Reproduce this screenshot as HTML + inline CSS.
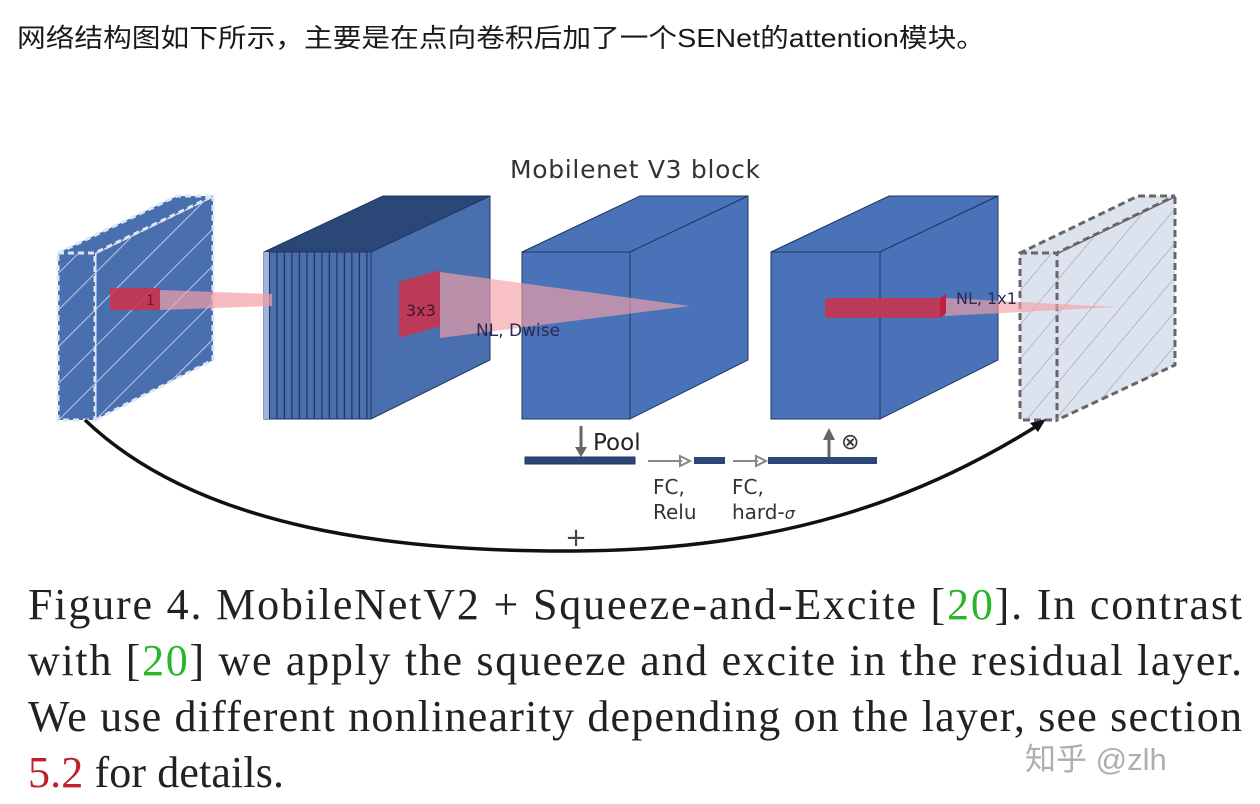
<!DOCTYPE html>
<html><head><meta charset="utf-8"><style>
html,body{margin:0;padding:0;background:#fff;width:1260px;height:804px;overflow:hidden}
</style></head><body>
<svg width="1260" height="804" viewBox="0 0 1260 804" xmlns="http://www.w3.org/2000/svg">
<defs>
<pattern id="hatch" width="26" height="26" patternUnits="userSpaceOnUse" patternTransform="rotate(45)"><line x1="0" y1="0" x2="0" y2="26" stroke="#b8c8e8" stroke-width="2"/></pattern>
<pattern id="hatch2" width="22" height="22" patternUnits="userSpaceOnUse" patternTransform="rotate(40)"><line x1="0" y1="0" x2="0" y2="22" stroke="#8a94a6" stroke-width="1"/></pattern>
<pattern id="stripes" width="7.5" height="10" patternUnits="userSpaceOnUse"><rect width="7.5" height="10" fill="#4a6fae"/><line x1="7" y1="0" x2="7" y2="10" stroke="#1f3560" stroke-width="1.5"/></pattern>
</defs>
<text x="17" y="47" textLength="968" lengthAdjust="spacingAndGlyphs" font-family="Liberation Sans,'Noto Sans CJK SC',sans-serif" font-size="26" fill="#1a1a1a">网络结构图如下所示，主要是在点向卷积后加了一个SENet的attention模块。</text>
<text x="635" y="178" text-anchor="middle" textLength="250" font-family="DejaVu Sans,sans-serif" font-size="25" fill="#333">Mobilenet V3 block</text>

<g>
<polygon points="95,253 213,196 213,360 95,420" fill="#4a6fae" stroke="#dde6f5" stroke-width="3" stroke-dasharray="6,4"/>
<polygon points="95,253 213,196 213,360 95,420" fill="url(#hatch)"/>
<polygon points="58,253 95,253 213,196 177,196" fill="#4a6fae" stroke="#dde6f5" stroke-width="3" stroke-dasharray="6,4"/>
<rect x="58" y="253" width="37" height="167" fill="#4a6fae" stroke="#dde6f5" stroke-width="3" stroke-dasharray="6,4"/>
<rect x="58" y="253" width="37" height="167" fill="url(#hatch)"/>
</g>
<g>
<polygon points="264,252 383,196 490,196 371,252" fill="#2b4777" stroke="#1f3560"/>
<polygon points="371,252 490,196 490,360 371,419" fill="#4a6fae" stroke="#1f3560"/>
<rect x="264" y="252" width="107" height="167" fill="url(#stripes)" stroke="#1f3560"/>
<rect x="264" y="252" width="5" height="167" fill="#9fb4d8"/>
</g>
<g>
<polygon points="522,252 640,196 748,196 630,252" fill="#4a72b8" stroke="#1f3560"/>
<polygon points="630,252 748,196 748,360 630,419" fill="#4a72b8" stroke="#1f3560"/>
<rect x="522" y="252" width="108" height="167" fill="#4a72b8" stroke="#1f3560"/>
</g>
<g>
<polygon points="771,252 889,196 998,196 880,252" fill="#4a72b8" stroke="#1f3560"/>
<polygon points="880,252 998,196 998,360 880,419" fill="#4a72b8" stroke="#1f3560"/>
<rect x="771" y="252" width="109" height="167" fill="#4a72b8" stroke="#1f3560"/>
</g>
<g>
<polygon points="1057,253 1175,196 1175,365 1057,420" fill="#dde3ee" stroke="#666" stroke-width="3" stroke-dasharray="7,4"/>
<polygon points="1057,253 1175,196 1175,365 1057,420" fill="url(#hatch2)"/>
<polygon points="1020,253 1057,253 1175,196 1138,196" fill="#dde3ee" stroke="#666" stroke-width="3" stroke-dasharray="7,4"/>
<rect x="1020" y="253" width="37" height="167" fill="#dde3ee" stroke="#666" stroke-width="3" stroke-dasharray="7,4"/>
<rect x="1020" y="253" width="37" height="167" fill="url(#hatch2)"/>
</g>

<g>
<polygon points="160,290 272,294 272,306 160,310" fill="#f4a0a8" opacity="0.7"/>
<rect x="110" y="288" width="50" height="22" fill="#d03048" opacity="0.85"/>
<text x="146" y="305" font-family="DejaVu Sans,sans-serif" font-size="14" fill="#6a1a30">1</text>
<polygon points="440,272 690,306 440,338" fill="#f4a0a8" opacity="0.65"/>
<polygon points="399,282 440,270 440,326 399,338" fill="#d03048" opacity="0.85"/>
<text x="406" y="316" font-family="DejaVu Sans,sans-serif" font-size="16" fill="#3a1a30">3x3</text>
<text x="476" y="336" font-family="DejaVu Sans,sans-serif" font-size="17" fill="#2a2a50">NL, Dwise</text>
<polygon points="945,298 1117,307 945,316" fill="#f4a0a8" opacity="0.65"/>
<rect x="825" y="298" width="115" height="20" fill="#d03048" opacity="0.85"/>
<polygon points="940,298 946,294 946,313 940,318" fill="#c02040"/>
<text x="956" y="304" font-family="DejaVu Sans,sans-serif" font-size="16" fill="#2a2a50">NL, 1x1</text>
</g>

<g>
<line x1="581" y1="426" x2="581" y2="452" stroke="#666" stroke-width="3"/>
<polygon points="575,447 587,447 581,457" fill="#666"/>
<text x="593" y="450" font-family="DejaVu Sans,sans-serif" font-size="23" fill="#222">Pool</text>
<rect x="525" y="457" width="110" height="7" fill="#2b4777" stroke="#1f3560"/>
<line x1="648" y1="461" x2="682" y2="461" stroke="#888" stroke-width="2"/><polygon points="680,456 690,461 680,466" fill="none" stroke="#888" stroke-width="2"/>
<rect x="694" y="457" width="31" height="7" fill="#2b4777"/>
<line x1="733" y1="461" x2="758" y2="461" stroke="#888" stroke-width="2"/><polygon points="756,456 766,461 756,466" fill="none" stroke="#888" stroke-width="2"/>
<rect x="768" y="457" width="109" height="7" fill="#2b4777"/>
<line x1="829" y1="457" x2="829" y2="436" stroke="#666" stroke-width="3"/><polygon points="823,440 835,440 829,428" fill="#666"/>
<text x="841" y="449" font-family="DejaVu Sans,sans-serif" font-size="22" fill="#333">⊗</text>
<text x="653" y="494" font-family="DejaVu Sans,sans-serif" font-size="20" fill="#333">FC,</text>
<text x="653" y="519" font-family="DejaVu Sans,sans-serif" font-size="20" fill="#333">Relu</text>
<text x="732" y="494" font-family="DejaVu Sans,sans-serif" font-size="20" fill="#333">FC,</text>
<text x="732" y="519" font-family="DejaVu Sans,sans-serif" font-size="20" fill="#333">hard-<tspan font-style="italic" font-size="16">σ</tspan></text>
</g>
<g>
<path d="M85,420 C200,530 400,552 575,551 C780,550 920,500 1040,424" fill="none" stroke="#111" stroke-width="3.5"/>
<polygon points="1046,419 1030,423 1038,432" fill="#111"/>
<text x="576" y="546" text-anchor="middle" font-family="DejaVu Sans,sans-serif" font-size="26" fill="#444">+</text>
</g>

<g font-family="Liberation Serif,serif" font-size="44" fill="#222">
<text x="28" y="619" textLength="1214">Figure 4. MobileNetV2 + Squeeze-and-Excite [<tspan fill="#2ab52a">20</tspan>].  In contrast</text>
<text x="28" y="675" textLength="1214">with [<tspan fill="#2ab52a">20</tspan>] we apply the squeeze and excite in the residual layer.</text>
<text x="28" y="731" textLength="1214">We use different nonlinearity depending on the layer, see section</text>
<text x="28" y="787" textLength="256"><tspan fill="#c0202a">5.2</tspan> for details.</text>
</g>
<text x="1025" y="770" font-family="Liberation Sans,'Noto Sans CJK SC',sans-serif" font-size="31" fill="#9a9a9a" opacity="0.8">知乎 @zlh</text>
</svg>
</body></html>
